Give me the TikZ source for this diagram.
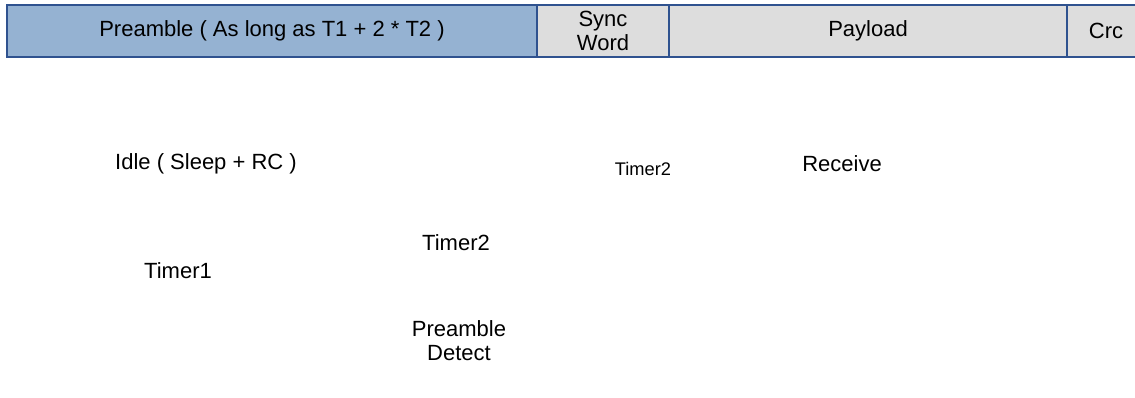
\documentclass[tikz,border=0pt]{standalone}
\usepackage{fontspec}
\setmainfont{Liberation Sans}
\definecolor{bordc}{RGB}{47,82,143}
\definecolor{prefill}{RGB}{149,178,210}
\definecolor{grayfill}{RGB}{221,221,221}
\tikzset{
  field/.style={draw=bordc, line width=1.1pt},
  lbl/.style={inner sep=0pt, font=\fontsize{16.5pt}{18pt}\selectfont, align=center},
  smalllbl/.style={inner sep=0pt, font=\fontsize{13.7pt}{16pt}\selectfont},
}
\begin{document}
\begin{tikzpicture}[x=0.75pt,y=-0.75pt]
\clip (0,0) rectangle (1135,397);
\fill[white] (0,0) rectangle (1135,397);
% packet fields
\filldraw[field, fill=prefill] (7,5) rectangle (537,57);
\filldraw[field, fill=grayfill] (537,5) rectangle (669,57);
\filldraw[field, fill=grayfill] (669,5) rectangle (1067,57);
\filldraw[field, fill=grayfill] (1067,5) rectangle (1140,57);
\node[lbl] (pre) at (272,31) {Preamble ( As long as T1 + 2 * T2 )};
\node[lbl] (sync) at (603,31) {Sync\\Word};
\node[lbl] (pay) at (868,31) {Payload};
\node[lbl] (crc) at (1106,31) {Crc};
% state labels
\node[lbl] (idle) at (206,164) {Idle ( Sleep + RC )};
\node[smalllbl] (t2s) at (643,169) {Timer2};
\node[lbl] (recv) at (842,164) {Receive};
\node[lbl] (t2) at (456,243) {Timer2};
\node[lbl] (t1) at (178,271) {Timer1};
\node[lbl] (pd) at (459,341) {Preamble\\Detect};
\end{tikzpicture}
\end{document}
